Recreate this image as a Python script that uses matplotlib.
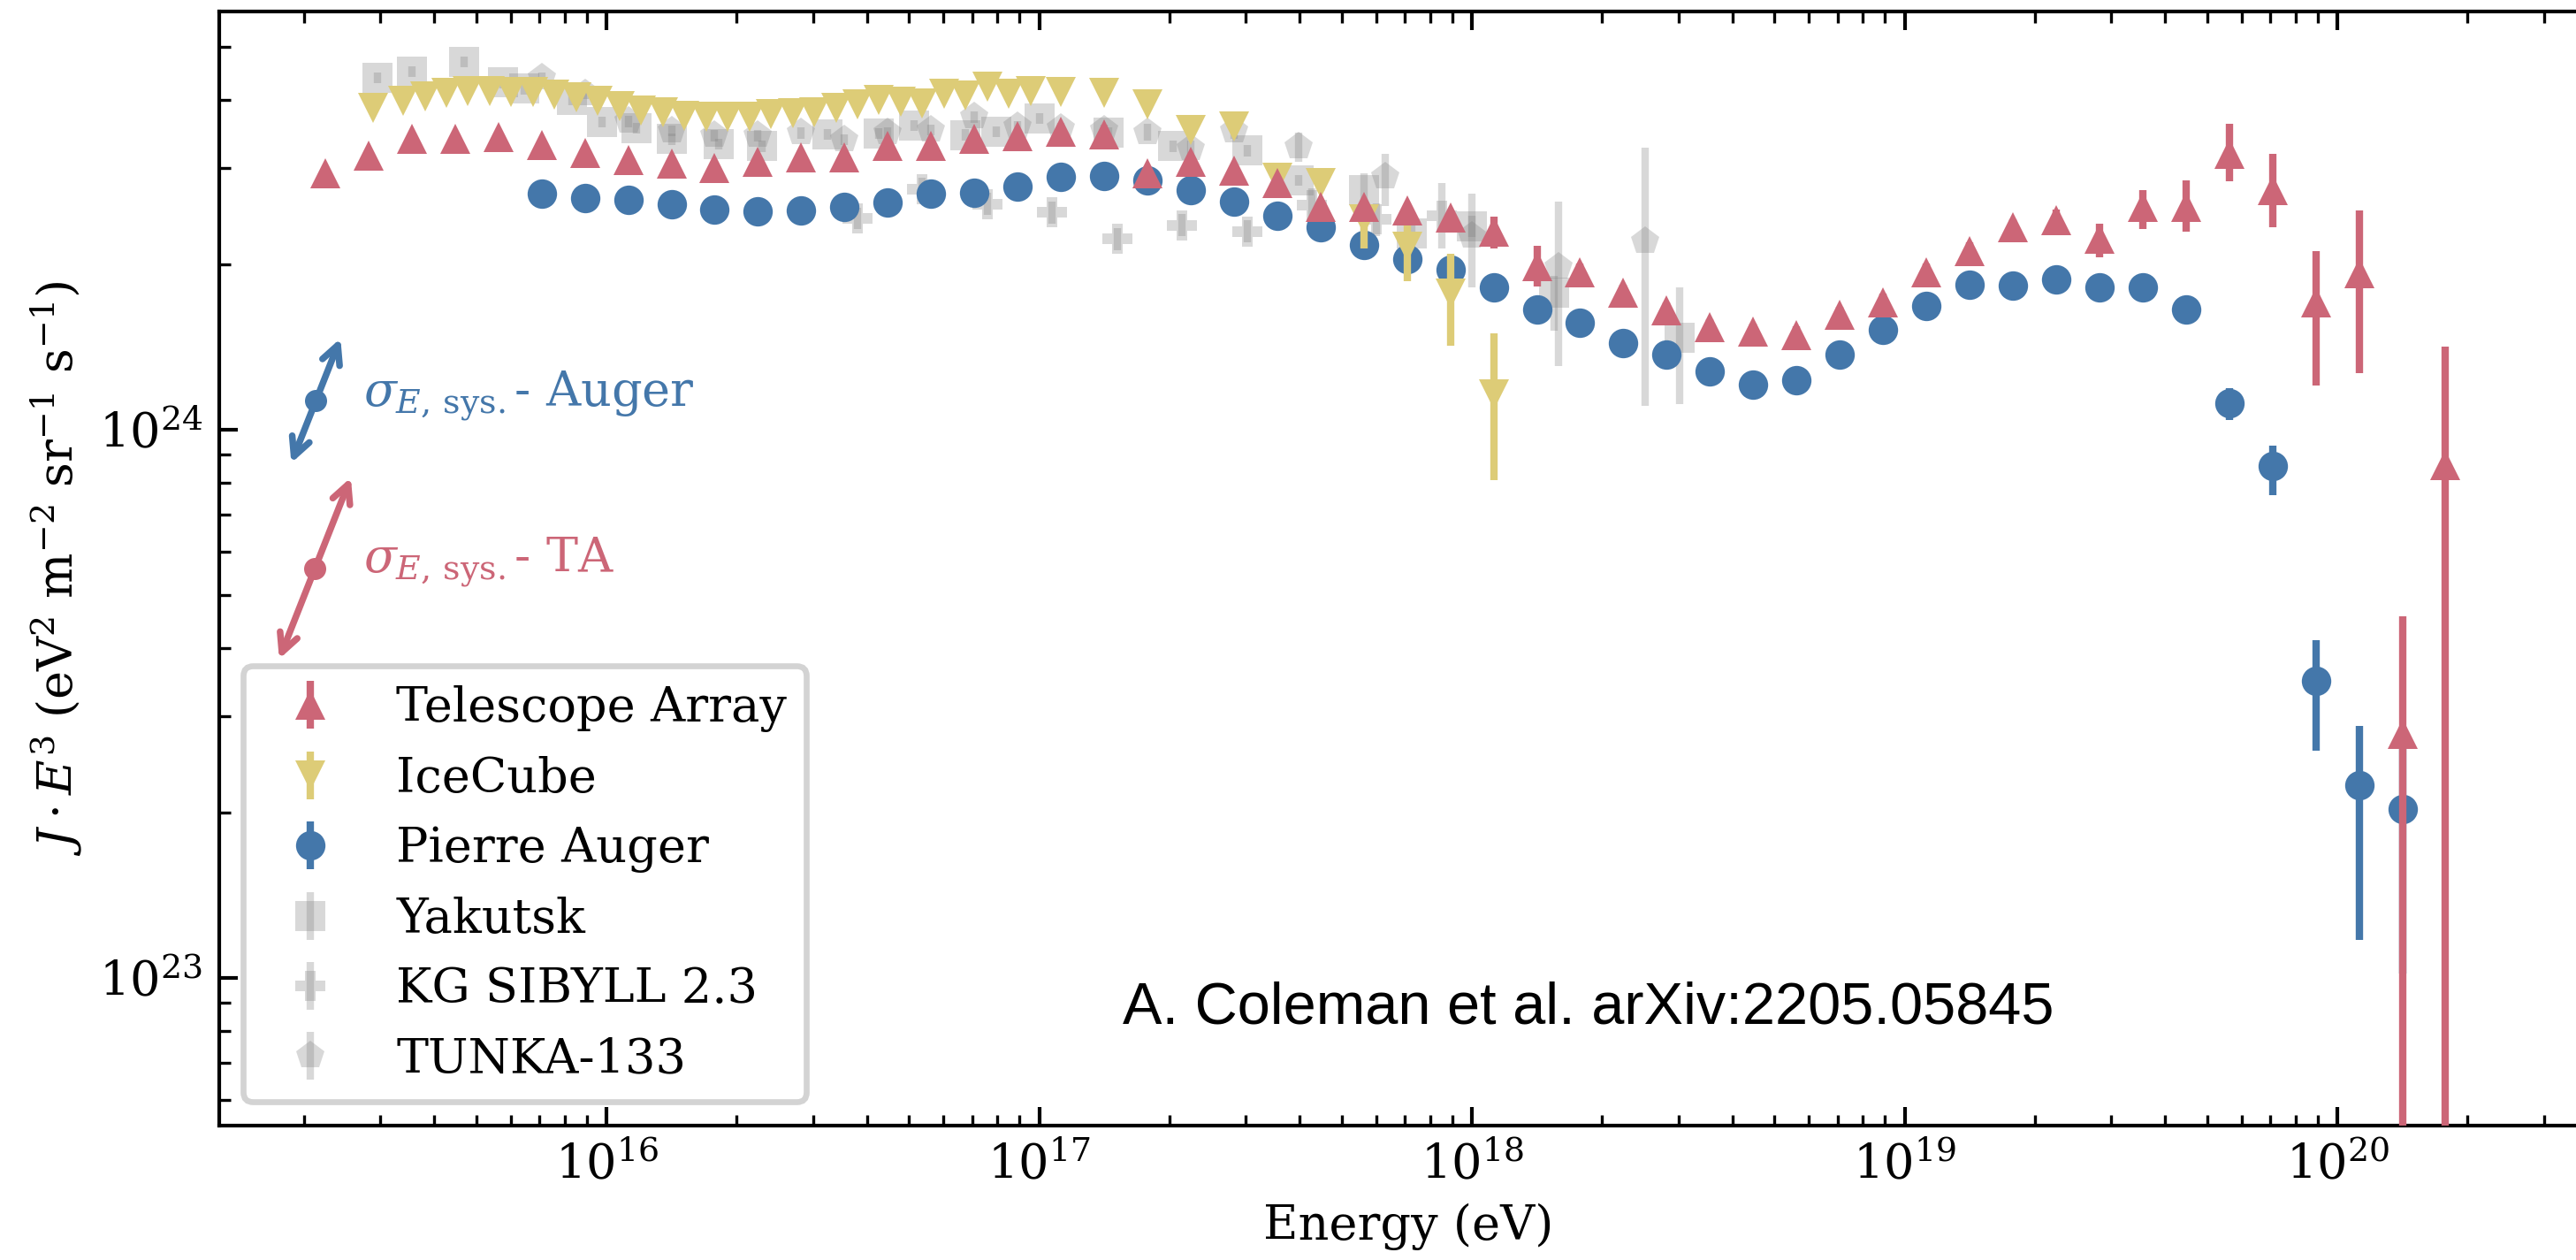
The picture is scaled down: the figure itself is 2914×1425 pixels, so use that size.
import numpy as np
import matplotlib
matplotlib.use("Agg")
import matplotlib.pyplot as plt

plt.rcParams["font.family"] = "DejaVu Serif"
plt.rcParams["mathtext.fontset"] = "dejavuserif"


# Values.
# Energies are log10(E / eV), fluxes are J*E^3 in units of 1e24 eV^2 m^-2 sr^-1 s^-1,
# errors are in dex (lower, upper).

ta_logE = [15.35, 15.45, 15.55, 15.65, 15.75, 15.85, 15.95, 16.05, 16.15, 16.25,
           16.35, 16.45, 16.55, 16.65, 16.75, 16.85, 16.95, 17.05, 17.15, 17.25,
           17.35, 17.45, 17.55, 17.65, 17.75, 17.85, 17.95, 18.05, 18.15, 18.25,
           18.35, 18.45, 18.55, 18.65, 18.75, 18.85, 18.95, 19.05, 19.15, 19.25,
           19.35, 19.45, 19.55, 19.65, 19.75, 19.85, 19.95, 20.05, 20.15, 20.25]
ta_flux = [2.94, 3.16, 3.40, 3.39, 3.42, 3.31, 3.20, 3.10, 3.06, 3.00,
           3.08, 3.14, 3.14, 3.30, 3.30, 3.40, 3.43, 3.50, 3.46, 2.94,
           3.08, 2.97, 2.82, 2.55, 2.55, 2.51, 2.44, 2.30, 1.99, 1.94,
           1.78, 1.65, 1.54, 1.51, 1.49, 1.62, 1.71, 1.94, 2.12, 2.34,
           2.41, 2.23, 2.55, 2.55, 3.19, 2.74, 1.71, 1.93, 0.279, 0.861]
ta_lo = [0.01, 0.01, 0.01, 0.01, 0.01, 0.01, 0.01, 0.01, 0.01, 0.01,
         0.01, 0.01, 0.01, 0.01, 0.01, 0.01, 0.01, 0.01, 0.01, 0.01,
         0.01, 0.01, 0.01, 0.01, 0.01, 0.01, 0.01, 0.031, 0.037, 0.015,
         0.015, 0.015, 0.015, 0.015, 0.015, 0.015, 0.015, 0.015, 0.015, 0.015,
         0.02, 0.033, 0.041, 0.045, 0.051, 0.069, 0.152, 0.183, 2.0, 2.0]
ta_hi = [0.01, 0.01, 0.01, 0.01, 0.01, 0.01, 0.01, 0.01, 0.01, 0.01,
         0.01, 0.01, 0.01, 0.01, 0.01, 0.01, 0.01, 0.01, 0.01, 0.01,
         0.01, 0.01, 0.01, 0.01, 0.01, 0.01, 0.01, 0.027, 0.037, 0.015,
         0.015, 0.015, 0.015, 0.015, 0.015, 0.015, 0.015, 0.015, 0.015, 0.015,
         0.02, 0.027, 0.031, 0.048, 0.054, 0.065, 0.093, 0.114, 0.215, 0.216]

ic_logE = [15.46, 15.53, 15.58, 15.63, 15.68, 15.73, 15.78, 15.83, 15.88, 15.93,
           15.98, 16.03, 16.08, 16.13, 16.18, 16.23, 16.28, 16.33, 16.38, 16.43,
           16.48, 16.53, 16.58, 16.63, 16.68, 16.73, 16.78, 16.83, 16.88, 16.93,
           16.98, 17.05, 17.15, 17.25, 17.35, 17.45, 17.55, 17.65, 17.75, 17.85,
           17.95, 18.05]
ic_flux = [3.86, 3.98, 4.06, 4.12, 4.15, 4.15, 4.14, 4.14, 4.09, 4.04,
           3.98, 3.90, 3.83, 3.79, 3.74, 3.72, 3.72, 3.73, 3.76, 3.78,
           3.80, 3.86, 3.93, 4.00, 3.97, 3.94, 4.10, 4.07, 4.23, 4.11,
           4.15, 4.14, 4.12, 3.92, 3.52, 3.57, 2.88, 2.82, 2.42, 2.16,
           1.77, 1.16]
ic_lo = [0.01, 0.01, 0.01, 0.01, 0.01, 0.01, 0.01, 0.01, 0.01, 0.01,
         0.01, 0.01, 0.01, 0.01, 0.01, 0.01, 0.01, 0.01, 0.01, 0.01,
         0.01, 0.01, 0.01, 0.01, 0.01, 0.01, 0.01, 0.01, 0.01, 0.01,
         0.01, 0.01, 0.01, 0.01, 0.01, 0.01, 0.012, 0.015, 0.053, 0.063,
         0.095, 0.157]
ic_hi = [0.01, 0.01, 0.01, 0.01, 0.01, 0.01, 0.01, 0.01, 0.01, 0.01,
         0.01, 0.01, 0.01, 0.01, 0.01, 0.01, 0.01, 0.01, 0.01, 0.01,
         0.01, 0.01, 0.01, 0.01, 0.01, 0.01, 0.01, 0.01, 0.01, 0.01,
         0.01, 0.01, 0.01, 0.01, 0.01, 0.01, 0.012, 0.02, 0.02, 0.038,
         0.073, 0.111]

pa_logE = [15.85, 15.95, 16.05, 16.15, 16.25, 16.35, 16.45, 16.55, 16.65, 16.75,
           16.85, 16.95, 17.05, 17.15, 17.25, 17.35, 17.45, 17.55, 17.65, 17.75,
           17.85, 17.95, 18.05, 18.15, 18.25, 18.35, 18.45, 18.55, 18.65, 18.75,
           18.85, 18.95, 19.05, 19.15, 19.25, 19.35, 19.45, 19.55, 19.65, 19.75,
           19.85, 19.95, 20.05, 20.15]
pa_flux = [2.70, 2.65, 2.63, 2.58, 2.52, 2.50, 2.51, 2.55, 2.60, 2.70,
           2.71, 2.78, 2.89, 2.90, 2.85, 2.74, 2.61, 2.46, 2.34, 2.17,
           2.05, 1.96, 1.82, 1.66, 1.57, 1.44, 1.37, 1.28, 1.21, 1.23,
           1.37, 1.52, 1.68, 1.84, 1.83, 1.88, 1.82, 1.82, 1.66, 1.12,
           0.858, 0.348, 0.225, 0.203]
pa_lo = [0.008, 0.008, 0.008, 0.008, 0.008, 0.008, 0.008, 0.008, 0.008, 0.008,
         0.008, 0.008, 0.008, 0.008, 0.008, 0.008, 0.008, 0.008, 0.008, 0.008,
         0.008, 0.008, 0.008, 0.008, 0.008, 0.008, 0.008, 0.008, 0.008, 0.008,
         0.008, 0.008, 0.008, 0.008, 0.008, 0.008, 0.008, 0.008, 0.01, 0.032,
         0.053, 0.127, 0.283, 0.3]
pa_hi = [0.008, 0.008, 0.008, 0.008, 0.008, 0.008, 0.008, 0.008, 0.008, 0.008,
         0.008, 0.008, 0.008, 0.008, 0.008, 0.008, 0.008, 0.008, 0.008, 0.008,
         0.008, 0.008, 0.008, 0.008, 0.008, 0.008, 0.008, 0.008, 0.008, 0.008,
         0.008, 0.008, 0.008, 0.008, 0.008, 0.008, 0.008, 0.008, 0.01, 0.027,
         0.038, 0.074, 0.108, 0.15]

yk_logE = [15.47, 15.55, 15.67, 15.76, 15.81, 15.92, 15.99, 16.07, 16.15, 16.26,
           16.36, 16.51, 16.63, 16.71, 16.83, 16.90, 17.00, 17.16, 17.31, 17.48,
           17.60, 17.75, 17.86, 18.00, 18.19, 18.48]
yk_flux = [4.39, 4.50, 4.69, 4.30, 4.19, 4.00, 3.64, 3.55, 3.39, 3.32,
           3.29, 3.46, 3.47, 3.59, 3.45, 3.50, 3.70, 3.48, 3.29, 3.23,
           2.85, 2.74, 2.28, 2.35, 1.78, 1.47]
yk_lo = [0.01, 0.01, 0.01, 0.01, 0.01, 0.01, 0.01, 0.01, 0.01, 0.01,
         0.01, 0.01, 0.01, 0.01, 0.01, 0.01, 0.01, 0.01, 0.01, 0.01,
         0.01, 0.08, 0.02, 0.02, 0.07, 0.12]
yk_hi = [0.01, 0.01, 0.01, 0.01, 0.01, 0.01, 0.01, 0.01, 0.01, 0.01,
         0.01, 0.01, 0.01, 0.01, 0.01, 0.01, 0.01, 0.01, 0.01, 0.01,
         0.01, 0.03, 0.02, 0.02, 0.03, 0.093]

kg_logE = [16.58, 16.73, 16.88, 17.03, 17.18, 17.33, 17.48, 17.63, 17.78, 17.93]
kg_flux = [2.43, 2.75, 2.58, 2.49, 2.23, 2.36, 2.30, 2.57, 2.42, 2.46]
kg_lo = [0.02, 0.02, 0.02, 0.02, 0.02, 0.02, 0.02, 0.03, 0.03, 0.06]
kg_hi = [0.02, 0.02, 0.02, 0.02, 0.02, 0.02, 0.02, 0.03, 0.03, 0.06]

tk_logE = [15.85, 15.95, 16.05, 16.15, 16.25, 16.35, 16.45, 16.55, 16.65, 16.75,
           16.85, 16.95, 17.05, 17.15, 17.25, 17.35, 17.45, 17.60, 17.80, 18.00,
           18.20, 18.40]
tk_flux = [4.38, 4.10, 3.65, 3.51, 3.44, 3.44, 3.48, 3.38, 3.48, 3.52,
           3.72, 3.57, 3.55, 3.52, 3.49, 3.26, 3.51, 3.28, 2.89, 2.26,
           1.98, 2.21]
tk_lo = [0.01, 0.01, 0.01, 0.01, 0.01, 0.01, 0.01, 0.01, 0.01, 0.01,
         0.01, 0.01, 0.01, 0.01, 0.015, 0.015, 0.015, 0.027, 0.052, 0.095,
         0.18, 0.30]
tk_hi = [0.01, 0.01, 0.01, 0.01, 0.01, 0.01, 0.01, 0.01, 0.01, 0.01,
         0.01, 0.01, 0.01, 0.01, 0.015, 0.015, 0.015, 0.027, 0.043, 0.077,
         0.12, 0.17]

# energy-scale systematics markers: (E, J*E^3, fractional shift)
auger_sys = (2.13e15, 1.13e24, 0.14)
ta_sys = (2.12e15, 5.59e23, 0.21)

RED = "#CC6677"
SAND = "#DDCC77"
BLUE = "#4477AA"


def to_errorbar(logE, flux, lo, hi):
    E = 10 ** np.asarray(logE)
    y = np.asarray(flux) * 1e24
    lower = y * (1 - 10 ** (-np.asarray(lo)))
    upper = y * (10 ** np.asarray(hi) - 1)
    return E, y, [lower, upper]


fig = plt.figure(figsize=(2914 / 300, 1425 / 300), dpi=300)

xmin, xmax = 10 ** 15.105, 10 ** 20.6
ymin, ymax = 5.38e22, 5.80e24
px_per_dec_x = 489.5
px_per_dec_y = 620.0
ax_w = np.log10(xmax / xmin) * px_per_dec_x / 2914
ax_h = np.log10(ymax / ymin) * px_per_dec_y / 1425
ax = fig.add_axes([248 / 2914, 152 / 1425, ax_w, ax_h])

series = [
    (ta_logE, ta_flux, ta_lo, ta_hi, "^", RED, 1.0, "Telescope Array", 6),
    (ic_logE, ic_flux, ic_lo, ic_hi, "v", SAND, 1.0, "IceCube", 5),
    (pa_logE, pa_flux, pa_lo, pa_hi, "o", BLUE, 1.0, "Pierre Auger", 4),
    (yk_logE, yk_flux, yk_lo, yk_hi, "s", "gray", 0.3, "Yakutsk", 2),
    (kg_logE, kg_flux, kg_lo, kg_hi, "P", "gray", 0.3, "KG SIBYLL 2.3", 2),
    (tk_logE, tk_flux, tk_lo, tk_hi, "p", "gray", 0.3, "TUNKA-133", 2),
]

for logE, flux, lo, hi, marker, color, alpha, label, z in series:
    E, y, err = to_errorbar(logE, flux, lo, hi)
    ax.errorbar(
        E, y, yerr=err,
        fmt=marker,
        color=color,
        alpha=alpha,
        ms=8,
        mew=0,
        elinewidth=2,
        capsize=0,
        label=label,
        zorder=z
    )

# energy systematic arrows
for (E0, J0, d), color, name, ty in [
    (auger_sys, BLUE, "Auger", 1.156e24),
    (ta_sys, RED, "TA", 5.75e23),
]:
    ax.annotate(
        "",
        xy=(E0 * (1 + d), J0 * (1 + d) ** 2),
        xytext=(E0 / (1 + d), J0 / (1 + d) ** 2),
        arrowprops=dict(arrowstyle="<->,head_length=0.5,head_width=0.25",
                        color=color, lw=1.8, shrinkA=0, shrinkB=0),
        zorder=7
    )
    ax.plot(E0, J0, "o", color=color, ms=5, zorder=7)
    ax.text(10 ** 15.438, ty, r"$\sigma_{E,\,\mathrm{sys.}}$- " + name,
            color=color, fontsize=13, va="center", ha="left")

ax.text(0.6165, 0.2, "A. Coleman et al. arXiv:2205.05845",
        transform=fig.transFigure, family="Liberation Sans",
        fontsize=16, ha="center", va="center")

ax.set_xscale("log")
ax.set_yscale("log")
ax.set_xlim(xmin, xmax)
ax.set_ylim(ymin, ymax)

ax.set_xlabel("Energy (eV)", fontsize=13)
ax.set_ylabel(r"$J \cdot E^3$ (eV$^2$ m$^{-2}$ sr$^{-1}$ s$^{-1}$)", fontsize=13)

ax.tick_params(which="both", direction="in", top=True, right=True, labelsize=13)
ax.tick_params(which="major", length=5, width=1.0, pad=4.5)
ax.tick_params(which="minor", length=3, width=0.8)
for sp in ax.spines.values():
    sp.set_linewidth(1.0)

leg = ax.legend(loc="lower left", fontsize=13, fancybox=True,
                framealpha=1.0, edgecolor="lightgray")
leg.get_frame().set_linewidth(1.6)

fig.savefig("out.png", dpi=300)
